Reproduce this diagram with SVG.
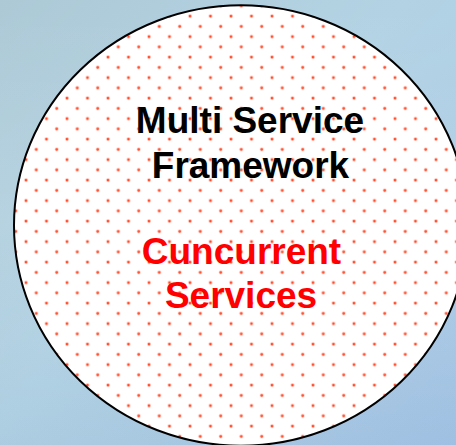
<svg xmlns="http://www.w3.org/2000/svg" width="456" height="445" viewBox="0 0 456 445">
  <defs>
    <linearGradient id="bg" x1="0" y1="0" x2="1" y2="1">
      <stop offset="0" stop-color="#adc9d6"/>
      <stop offset="0.45" stop-color="#b3d3e4"/>
      <stop offset="1" stop-color="#a4c4e6"/>
    </linearGradient>
    <linearGradient id="bgv" x1="0" y1="0" x2="0" y2="1">
      <stop offset="0" stop-color="#ffffff" stop-opacity="0"/>
      <stop offset="0.5" stop-color="#ffffff" stop-opacity="0.08"/>
      <stop offset="1" stop-color="#6a8fb8" stop-opacity="0.08"/>
    </linearGradient>
    <pattern id="dots" patternUnits="userSpaceOnUse" x="0.5" y="11.2" width="20.5" height="20.5">
      <rect width="20.5" height="20.5" fill="#ffffff"/>
      <circle cx="5" cy="5" r="2" fill="#ffd2c8"/>
      <circle cx="5" cy="5" r="1.3" fill="#ff4a2a"/>
      <circle cx="15.25" cy="15.25" r="2" fill="#ffd2c8"/>
      <circle cx="15.25" cy="15.25" r="1.3" fill="#ff4a2a"/>
    </pattern>
  </defs>
  <style>
    .title { font-family: "Liberation Sans", Arial, sans-serif; font-weight: bold; font-size: 37px; text-anchor: middle; }
    .black { fill: #000000; }
    .red { fill: #ff0000; }
  </style>
  <rect x="0" y="0" width="456" height="445" fill="url(#bg)"/>
  <rect x="0" y="0" width="456" height="445" fill="url(#bgv)"/>
  <g id="framework-node">
    <ellipse cx="241" cy="225.5" rx="227" ry="220.2" fill="url(#dots)" stroke="#000000" stroke-width="2"/>
    <text class="title black" x="250" y="133">Multi Service</text>
    <text class="title black" x="250.5" y="177.5">Framework</text>
    <text class="title red" x="241.5" y="263.5">Cuncurrent</text>
    <text class="title red" x="241" y="308">Services</text>
  </g>
  <g id="connectors"/>
</svg>
